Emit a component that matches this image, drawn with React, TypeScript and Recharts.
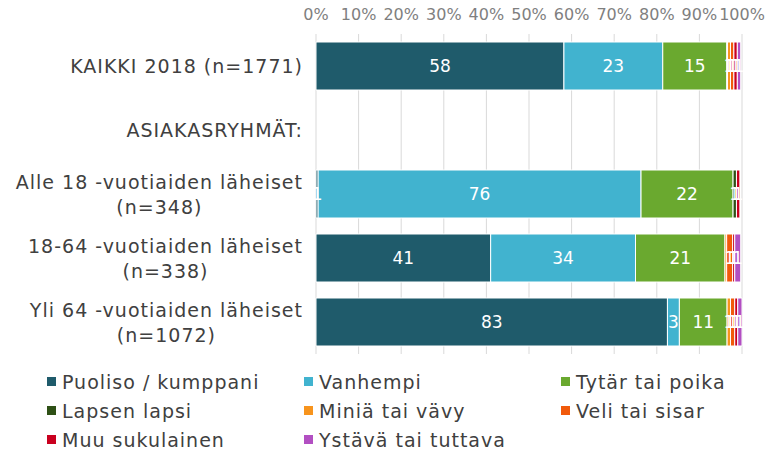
import {
  BarChart,
  Bar,
  XAxis,
  YAxis,
  CartesianGrid,
  LabelList,
} from "recharts";

const categories = [
  "KAIKKI 2018 (n=1771)",
  "ASIAKASRYHMÄT:",
  "Alle 18 -vuotiaiden läheiset\n(n=348)",
  "18-64 -vuotiaiden läheiset\n(n=338)",
  "Yli 64 -vuotiaiden läheiset\n(n=1072)",
];

const seriesNames = [
  "Puoliso / kumppani",
  "Vanhempi",
  "Tytär tai poika",
  "Lapsen lapsi",
  "Miniä tai vävy",
  "Veli tai sisar",
  "Muu sukulainen",
  "Ystävä tai tuttava",
];

const seriesColors = [
  "#1f5b6b",
  "#41b3cf",
  "#6aa92f",
  "#2e5016",
  "#f7941d",
  "#f15a0b",
  "#c9001f",
  "#b24fc2",
];

// one array per series, in category order (null = empty row)
const puoliso = [58.2, null, 0.5, 41, 82.5];
const vanhempi = [23.2, null, 75.8, 34, 2.8];
const tytar = [15, null, 21.6, 21, 11.2];
const lapsenLapsi = [0.2, null, 0.8, 0, 0];
const minia = [0.7, null, 0, 0.4, 0.8];
const veli = [0.8, null, 0, 1.4, 1];
const muu = [0.8, null, 0.8, 0.5, 0.7];
const ystava = [0.8, null, 0, 1.4, 1];

const xTicks = [0, 10, 20, 30, 40, 50, 60, 70, 80, 90, 100];

const seriesValues = [puoliso, vanhempi, tytar, lapsenLapsi, minia, veli, muu, ystava];
const keys = seriesNames.map((_, i) => `s${i}`);

const data = categories.map((name, ci) => {
  const row: Record<string, string | number | null> = { name };
  seriesValues.forEach((vals, si) => {
    row[keys[si]] = vals[ci];
  });
  return row;
});

const FONT = "Verdana, 'DejaVu Sans', sans-serif";
const CAT_SIZE = 19;
const CAT_SPACING = 1;

let ctx: CanvasRenderingContext2D | null = null;
function measure(text: string, size: number, spacing: number) {
  if (!ctx) ctx = document.createElement("canvas").getContext("2d");
  if (!ctx) return text.length * size * 0.6;
  ctx.font = `${size}px ${FONT}`;
  return ctx.measureText(text).width + spacing * text.length;
}

const CategoryTick = (props: any) => {
  const { x, y, payload } = props;
  const lines: string[] = String(payload.value).split("\n");
  const maxW = Math.max(...lines.map((l) => measure(l, CAT_SIZE, CAT_SPACING)));
  const cx = x - 5 - maxW / 2;
  const lh = 25;
  const startY = y - ((lines.length - 1) * lh) / 2;
  return (
    <text
      textAnchor="middle"
      fill="#404040"
      fontSize={CAT_SIZE}
      fontFamily={FONT}
      letterSpacing={CAT_SPACING}
      dominantBaseline="central"
    >
      {lines.map((l, i) => (
        <tspan key={i} x={cx} y={startY + i * lh}>
          {l}
        </tspan>
      ))}
    </text>
  );
};

const ChartLegend = () => (
  <div
    style={{
      position: "absolute",
      left: 0,
      top: 370,
      width: 765,
      display: "grid",
      gridTemplateColumns: "257px 257px 200px",
      rowGap: 6,
      paddingLeft: 47,
      fontFamily: FONT,
      fontSize: 19,
      letterSpacing: 1,
      color: "#404040",
    }}
  >
    {seriesNames.map((n, i) => (
      <div key={n} style={{ display: "flex", alignItems: "center", height: 23 }}>
        <span
          style={{
            width: 9,
            height: 9,
            background: seriesColors[i],
            marginRight: 6,
            display: "inline-block",
          }}
        />
        <span>{n}</span>
      </div>
    ))}
  </div>
);

export default function App() {
  return (
    <div
      style={{
        position: "absolute",
        left: 0,
        top: 0,
        width: 765,
        height: 456,
        background: "#fff",
      }}
    >
      <BarChart
        width={765}
        height={456}
        data={data}
        layout="vertical"
        barCategoryGap="12.5%"
        margin={{ top: 0, right: 23, bottom: 102, left: 16 }}
      >
        <CartesianGrid horizontal={false} stroke="#d9d9d9" />
        <XAxis
          type="number"
          orientation="top"
          domain={[0, 100]}
          ticks={xTicks}
          tickFormatter={(v: number) => `${v}%`}
          axisLine={false}
          tickLine={false}
          height={34}
          tickMargin={8}
          tick={{ fill: "#7f7f7f", fontSize: 16, fontFamily: FONT }}
          interval={0}
        />
        <YAxis
          type="category"
          dataKey="name"
          width={300}
          axisLine={false}
          tickLine={false}
          tick={<CategoryTick />}
          interval={0}
        />
        {keys.map((k, i) => (
          <Bar
            key={k}
            dataKey={k}
            name={seriesNames[i]}
            stackId="a"
            fill={seriesColors[i]}
            stroke="#ffffff"
            strokeWidth={1}
            isAnimationActive={false}
          >
            <LabelList
              dataKey={k}
              position="center"
              fill="#ffffff"
              fontSize={17}
              fontFamily={FONT}
              formatter={(v: any) =>
                v == null || v < 0.45 ? "" : String(Math.round(v))
              }
            />
          </Bar>
        ))}
      </BarChart>
      <ChartLegend />
    </div>
  );
}
